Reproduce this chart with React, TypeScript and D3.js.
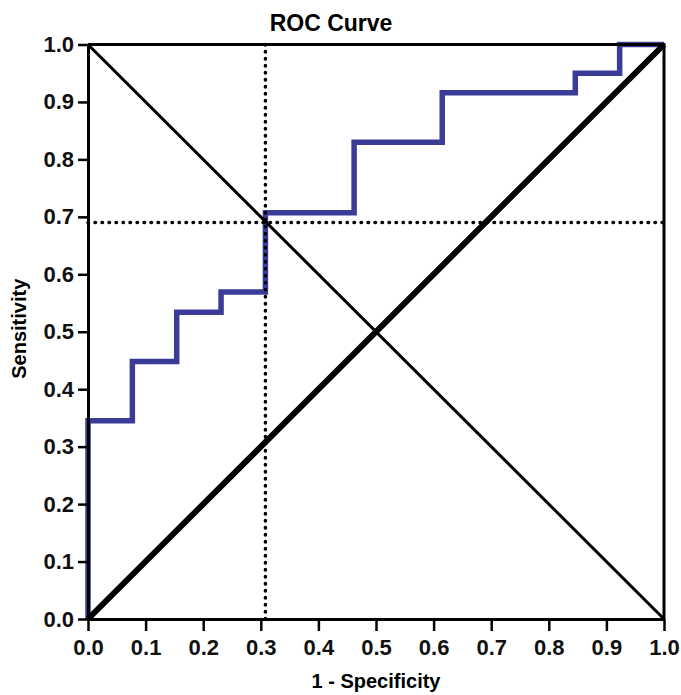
import React, { useEffect, useRef } from 'react';
import * as d3 from 'd3';

// ROC curve points (1 - specificity, sensitivity)
const fpr = [0, 0, 0.077, 0.154, 0.231, 0.308, 0.462, 0.615, 0.846, 0.923, 1];
const tpr = [0, 0.345, 0.448, 0.534, 0.569, 0.707, 0.83, 0.916, 0.95, 1, 1];

// cut-off guide lines
const cutX = 0.308;
const cutY = 0.69;

const ticks = [0, 0.1, 0.2, 0.3, 0.4, 0.5, 0.6, 0.7, 0.8, 0.9, 1.0];

const W = 681;
const H = 695;
const margin = { top: 44.5, right: 17, bottom: 76, left: 88 };
const font = '"Liberation Sans", Arial, sans-serif';

const App = () => {
  const svgRef = useRef<SVGSVGElement>(null);

  useEffect(() => {
    const svg = d3.select(svgRef.current);
    svg.selectAll('*').remove();

    const x = d3.scaleLinear().domain([0, 1]).range([margin.left, W - margin.right]);
    const y = d3.scaleLinear().domain([0, 1]).range([H - margin.bottom, margin.top]);

    const pts: [number, number][] = fpr.map((f, i) => [f, tpr[i]]);

    // ROC step curve
    const line = d3
      .line<[number, number]>()
      .x((d) => x(d[0]))
      .y((d) => y(d[1]))
      .curve(d3.curveStepAfter);

    svg
      .append('path')
      .attr('d', line(pts))
      .attr('fill', 'none')
      .attr('stroke', '#3a3c98')
      .attr('stroke-width', 5.5)
      .attr('stroke-linejoin', 'miter');

    // reference diagonals
    svg
      .append('line')
      .attr('x1', x(0))
      .attr('y1', y(0))
      .attr('x2', x(1))
      .attr('y2', y(1))
      .attr('stroke', '#000')
      .attr('stroke-width', 6);
    svg
      .append('line')
      .attr('x1', x(0))
      .attr('y1', y(1))
      .attr('x2', x(1))
      .attr('y2', y(0))
      .attr('stroke', '#000')
      .attr('stroke-width', 3);

    // dotted cut-off lines
    svg
      .append('line')
      .attr('x1', x(cutX))
      .attr('y1', y(0))
      .attr('x2', x(cutX))
      .attr('y2', y(1))
      .attr('stroke', '#000')
      .attr('stroke-width', 3.5)
      .attr('stroke-linecap', 'round')
      .attr('stroke-dasharray', '0.5,6.5');
    svg
      .append('line')
      .attr('x1', x(0))
      .attr('y1', y(cutY))
      .attr('x2', x(1))
      .attr('y2', y(cutY))
      .attr('stroke', '#000')
      .attr('stroke-width', 3.5)
      .attr('stroke-linecap', 'round')
      .attr('stroke-dasharray', '0.5,6.5');

    // frame top & right
    svg
      .append('path')
      .attr('d', `M${x(0)},${y(1)}H${x(1)}V${y(0)}`)
      .attr('fill', 'none')
      .attr('stroke', '#000')
      .attr('stroke-width', 3);

    const xAxis = d3
      .axisBottom(x)
      .tickValues(ticks)
      .tickFormat(d3.format('.1f'))
      .tickSize(12)
      .tickSizeOuter(0)
      .tickPadding(8);
    const yAxis = d3
      .axisLeft(y)
      .tickValues(ticks)
      .tickFormat(d3.format('.1f'))
      .tickSize(10)
      .tickSizeOuter(0)
      .tickPadding(4);

    const gx = svg.append('g').attr('transform', `translate(0,${y(0)})`).call(xAxis);
    const gy = svg.append('g').attr('transform', `translate(${x(0)},0)`).call(yAxis);

    [gx, gy].forEach((g) => {
      g.select('.domain').attr('stroke-width', 3);
      g.selectAll('.tick line').attr('stroke-width', 2.5);
      g.selectAll('.tick text')
        .attr('font-family', font)
        .attr('font-weight', 'bold')
        .attr('font-size', 22)
        .attr('fill', '#111');
    });

    svg
      .append('text')
      .attr('x', 331)
      .attr('y', 31)
      .attr('text-anchor', 'middle')
      .attr('font-family', font)
      .attr('font-weight', 'bold')
      .attr('font-size', 23)
      .text('ROC Curve');

    svg
      .append('text')
      .attr('x', (x(0) + x(1)) / 2)
      .attr('y', 688)
      .attr('text-anchor', 'middle')
      .attr('font-family', font)
      .attr('font-weight', 'bold')
      .attr('font-size', 20)
      .text('1 - Specificity');

    svg
      .append('text')
      .attr('transform', `translate(26,${(y(0) + y(1)) / 2 - 3}) rotate(-90)`)
      .attr('text-anchor', 'middle')
      .attr('font-family', font)
      .attr('font-weight', 'bold')
      .attr('font-size', 20)
      .text('Sensitivity');
  }, []);

  return (
    <svg
      ref={svgRef}
      width={W}
      height={H}
      style={{ position: 'absolute', left: 0, top: 0, background: '#fff' }}
    />
  );
};

export default App;
